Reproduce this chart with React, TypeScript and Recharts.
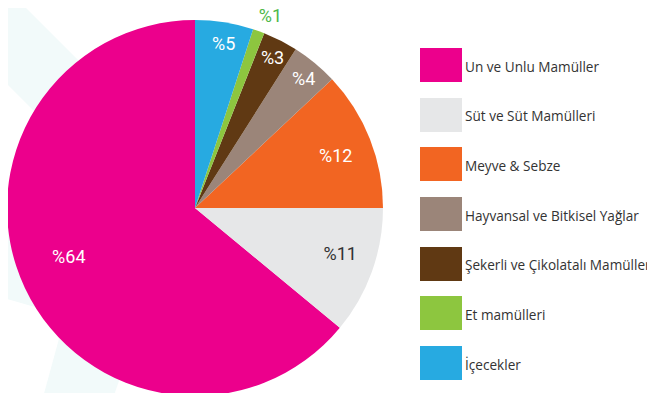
import { PieChart, Pie, Cell } from 'recharts'

const categories = [
  'Un ve Unlu Mamüller',
  'Süt ve Süt Mamülleri',
  'Meyve & Sebze',
  'Hayvansal ve Bitkisel Yağlar',
  'Şekerli ve Çikolatalı Mamüller',
  'Et mamülleri',
  'İçecekler',
]
const shares = [64, 11, 12, 4, 3, 1, 5]
const colors = ['#EC008C', '#E6E7E8', '#F26522', '#9B8579', '#603913', '#8DC63F', '#27AAE1']

// label placement tweaks (fraction of outer radius, angle nudge in degrees) and text colours
const labelRadius = [0.72, 0.81, 0.8, 0.9, 0.9, 1.1, 0.89]
const labelShift = [-4, 2.3, -1, -0.4, -0.3, -1.6, -0.9]
const labelColor = ['#fff', '#333', '#fff', '#fff', '#fff', '#4DB848', '#fff']

const data = categories.map((name, i) => ({ name, value: shares[i] }))

const RADIAN = Math.PI / 180

function renderLabel(props: any) {
  const { cx, cy, midAngle, outerRadius, index, value } = props
  const r = outerRadius * labelRadius[index]
  const a = (midAngle + labelShift[index]) * RADIAN
  const x = cx + r * Math.cos(a)
  const y = cy - r * Math.sin(a)
  return (
    <text
      x={x}
      y={y + 6.5}
      fill={labelColor[index]}
      textAnchor="middle"
      fontFamily="Roboto, sans-serif"
      fontSize={18}
    >
      {`%${value}`}
    </text>
  )
}

function ChartLegend() {
  return (
    <div
      style={{
        position: 'absolute',
        left: 420,
        top: 48,
        fontFamily: '"Open Sans", sans-serif',
        fontSize: 13.6,
        color: '#333',
      }}
    >
      {categories.map((name, i) => (
        <div key={name} style={{ display: 'flex', alignItems: 'center', height: 34, marginBottom: 15.7 }}>
          <div style={{ width: 42, height: 34, background: colors[i] }} />
          <span style={{ marginLeft: 3, position: 'relative', top: 1, whiteSpace: 'nowrap' }}>{name}</span>
        </div>
      ))}
    </div>
  )
}

export default function App() {
  return (
    <div style={{ position: 'relative', margin: -8, width: 655, height: 401, background: '#fff', overflow: 'hidden' }}>
      <svg width={655} height={401} style={{ position: 'absolute', left: 0, top: 0 }}>
        <polygon points="0,0 18,0 200,182 200,277 0,77" fill="#F2FAFA" />
        <polygon points="0,228 80,250 80,320 0,297" fill="#F2FAFA" />
        <polygon points="60,335 135,335 112,401 42,401" fill="#F2FAFA" />
      </svg>
      <div style={{ position: 'absolute', left: 0, top: 0 }}>
        <PieChart width={655} height={401} margin={{ top: 0, right: 0, bottom: 0, left: 0 }}>
          <Pie
            data={data}
            dataKey="value"
            nameKey="name"
            cx={195}
            cy={208}
            outerRadius={188}
            startAngle={90}
            endAngle={450}
            stroke="none"
            label={renderLabel}
            labelLine={false}
            isAnimationActive={false}
          >
            {data.map((entry, i) => (
              <Cell key={entry.name} fill={colors[i]} />
            ))}
          </Pie>
        </PieChart>
      </div>
      <ChartLegend />
    </div>
  )
}
